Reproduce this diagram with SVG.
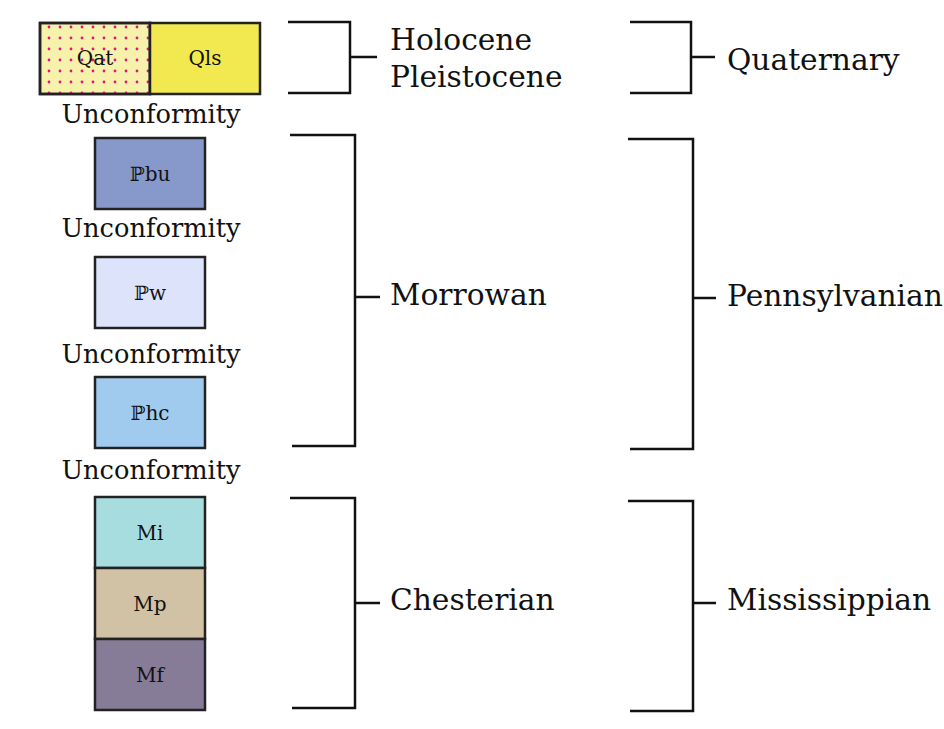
<svg xmlns="http://www.w3.org/2000/svg" width="944" height="729" viewBox="0 0 944 729">
<defs>
<pattern id="dots" x="0" y="0" width="11" height="11" patternUnits="userSpaceOnUse">
<circle cx="5" cy="5" r="1.4" fill="#e5137c"/>
</pattern>
</defs>
<style>
.box{stroke:#222;stroke-width:2.5}
.bl{font-family:"DejaVu Serif","Liberation Serif",serif;font-size:20px;fill:#111;text-anchor:middle}
.un{font-family:"DejaVu Serif","Liberation Serif",serif;font-size:25.7px;fill:#111;text-anchor:middle}
.lab{font-family:"DejaVu Serif","Liberation Serif",serif;font-size:29.7px;fill:#111}
.br{fill:none;stroke:#111;stroke-width:2.5}
</style>
<rect width="944" height="729" fill="#fff"/>
<g id="Qat"><rect class="box" x="40" y="23" width="110" height="71" fill="#f6f1ab"/><rect x="41" y="24" width="108" height="69" fill="url(#dots)"/><rect x="40" y="23" width="110" height="71" fill="none" stroke="#222" stroke-width="2.5"/><text class="bl" x="95" y="65">Qat</text></g>
<g id="Qls"><rect class="box" x="150" y="23" width="110" height="71" fill="#f2e84f"/><text class="bl" x="205" y="65">Qls</text></g>
<g id="Pbu"><rect class="box" x="95" y="138" width="110" height="71" fill="#8799cb"/><text class="bl" x="150" y="181">ℙbu</text></g>
<g id="Pw"><rect class="box" x="95" y="257" width="110" height="71" fill="#dde3fb"/><text class="bl" x="150" y="300">ℙw</text></g>
<g id="Phc"><rect class="box" x="95" y="377" width="110" height="71" fill="#a0cbee"/><text class="bl" x="150" y="420">ℙhc</text></g>
<g id="Mi"><rect class="box" x="95" y="497" width="110" height="71" fill="#a8dde0"/><text class="bl" x="150" y="540">Mi</text></g>
<g id="Mp"><rect class="box" x="95" y="568" width="110" height="71" fill="#d2c2a5"/><text class="bl" x="150" y="611">Mp</text></g>
<g id="Mf"><rect class="box" x="95" y="639" width="110" height="71" fill="#877c98"/><text class="bl" x="150" y="682">Mf</text></g>
<g id="unconformities">
<text class="un" x="151" y="123">Unconformity</text>
<text class="un" x="151" y="237">Unconformity</text>
<text class="un" x="151" y="363">Unconformity</text>
<text class="un" x="151" y="479">Unconformity</text>
</g>
<g id="connectors">
<path class="br" d="M288 22H350V93H288M350 57H377"/>
<path class="br" d="M630 22H691V93H630M691 57H715"/>
<path class="br" d="M290 135H355V446H292M355 297H380"/>
<path class="br" d="M628 139H693V449H630M693 298H716"/>
<path class="br" d="M290 498H355V708H292M355 603H380"/>
<path class="br" d="M628 501H693V711H630M693 603H716"/>
</g>
<g id="labels">
<text class="lab" x="390" y="50">Holocene</text>
<text class="lab" x="390" y="87">Pleistocene</text>
<text class="lab" x="727" y="70">Quaternary</text>
<text class="lab" x="390" y="305">Morrowan</text>
<text class="lab" x="727" y="306">Pennsylvanian</text>
<text class="lab" x="390" y="610">Chesterian</text>
<text class="lab" x="727" y="610">Mississippian</text>
</g>
</svg>
